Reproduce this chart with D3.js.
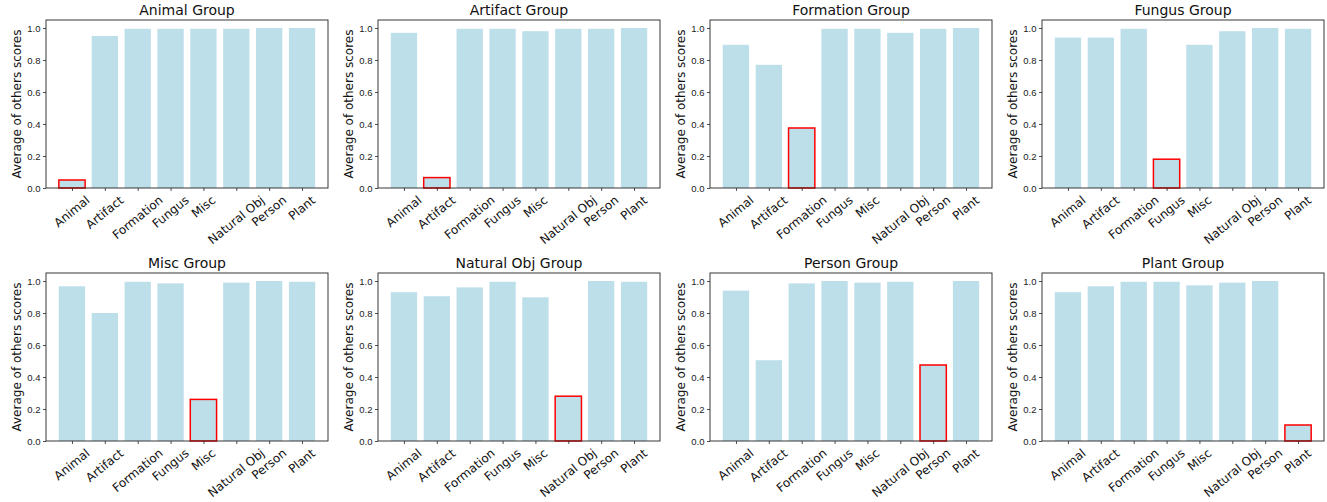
<!DOCTYPE html>
<html>
<head>
<meta charset="utf-8">
<script src="https://cdn.jsdelivr.net/npm/d3@7"></script>
<style>
  body { margin: 0; background: #fff; }
  svg { font-family: "DejaVu Sans", sans-serif; }
</style>
</head>
<body>
<div id="chart"></div>
<script>
'use strict';

// data
var categories = ["Animal", "Artifact", "Formation", "Fungus", "Misc", "Natural Obj", "Person", "Plant"];
var groups = ["Animal", "Artifact", "Formation", "Fungus", "Misc", "Natural Obj", "Person", "Plant"];

var animalScores     = [0.05, 0.95, 0.995, 0.995, 0.995, 0.995, 1.0, 1.0];
var artifactScores   = [0.97, 0.065, 0.995, 0.995, 0.98, 0.995, 0.995, 1.0];
var formationScores  = [0.895, 0.77, 0.375, 0.995, 0.995, 0.97, 0.995, 1.0];
var fungusScores     = [0.94, 0.94, 0.995, 0.18, 0.895, 0.98, 1.0, 0.995];
var miscScores       = [0.967, 0.80, 0.995, 0.985, 0.26, 0.99, 1.0, 0.995];
var naturalObjScores = [0.93, 0.905, 0.96, 0.995, 0.898, 0.28, 1.0, 0.995];
var personScores     = [0.94, 0.505, 0.985, 1.0, 0.99, 0.995, 0.475, 1.0];
var plantScores      = [0.93, 0.967, 0.995, 0.995, 0.973, 0.99, 1.0, 0.10];

var yTicks = [0.0, 0.2, 0.4, 0.6, 0.8, 1.0];

var allScores = [animalScores, artifactScores, formationScores, fungusScores,
                 miscScores, naturalObjScores, personScores, plantScores];

// layout constants
var W = 1327, H = 502,
    panelW = 282, panelH = 168,
    lefts = [46, 378, 710, 1042],
    tops = [20, 273],
    labelAngle = 39;

var svg = d3.select("#chart").append("svg")
    .attr("width", W)
    .attr("height", H);

var x = d3.scaleLinear().domain([-0.79, 7.79]).range([0, panelW]);
var y = d3.scaleLinear().domain([0, 1.05]).range([panelH, 0]);

groups.forEach(function (g, gi) {
  var scores = allScores[gi];
  var ax = svg.append("g")
      .attr("transform", "translate(" + lefts[gi % 4] + "," + tops[Math.floor(gi / 4)] + ")");

  // bars
  ax.selectAll("rect.bar")
      .data(scores)
      .enter().append("rect")
      .attr("class", "bar")
      .attr("x", function (d, i) { return x(i - 0.4); })
      .attr("width", x(0.4) - x(-0.4))
      .attr("y", function (d) { return y(d); })
      .attr("height", function (d) { return y(0) - y(d); })
      .attr("fill", "#bddfea")
      .attr("stroke", function (d, i) { return categories[i] === g ? "#ff0000" : "none"; })
      .attr("stroke-width", 1.5);

  // y axis
  var yAxis = ax.append("g")
      .call(d3.axisLeft(y).tickValues(yTicks).tickFormat(d3.format(".1f")).tickSize(3).tickPadding(2.5));
  yAxis.select(".domain").remove();
  yAxis.selectAll("text").attr("font-size", 9.5).attr("fill", "#222");
  yAxis.selectAll("line").attr("stroke", "#222").attr("stroke-width", 0.8);

  // x ticks
  var xAxis = ax.append("g")
      .attr("transform", "translate(0," + panelH + ")")
      .call(d3.axisBottom(x).tickValues(d3.range(categories.length)).tickFormat("").tickSize(3));
  xAxis.select(".domain").remove();
  xAxis.selectAll("line").attr("stroke", "#222").attr("stroke-width", 0.8);

  // rotated x labels: rotated box centred under the tick, top just below the axis
  ax.selectAll("g.xlab")
      .data(categories)
      .enter().append("g")
      .attr("class", "xlab")
      .each(function (d, i) {
        var lab = d3.select(this);
        lab.append("text")
            .attr("font-size", 12)
            .attr("fill", "#111")
            .attr("text-anchor", "middle")
            .attr("transform", "rotate(" + (-labelAngle) + ")")
            .text(d);
        var bb = this.getBBox();
        var dx = x(i) - (bb.x + bb.width / 2),
            dy = panelH + 5 - bb.y;
        lab.attr("transform", "translate(" + dx + "," + dy + ")");
      });

  // frame
  ax.append("rect")
      .attr("width", panelW)
      .attr("height", panelH)
      .attr("fill", "none")
      .attr("stroke", "#222")
      .attr("stroke-width", 0.9);

  // title + y label
  ax.append("text")
      .attr("x", panelW / 2)
      .attr("y", -5)
      .attr("text-anchor", "middle")
      .attr("font-size", 14)
      .attr("fill", "#111")
      .text(g + " Group");

  ax.append("text")
      .attr("transform", "translate(-29," + panelH / 2 + ") rotate(-90)")
      .attr("text-anchor", "middle")
      .attr("dominant-baseline", "central")
      .attr("font-size", 12)
      .attr("fill", "#111")
      .text("Average of others scores");
});
</script>
</body>
</html>
